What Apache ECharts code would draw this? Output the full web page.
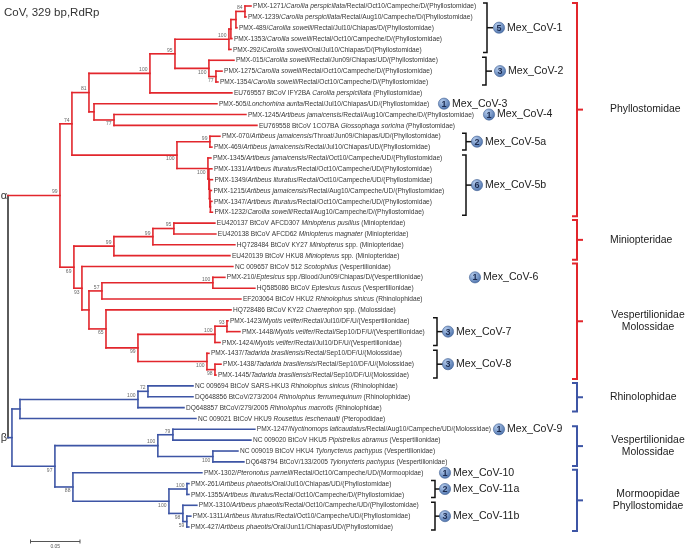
<!DOCTYPE html>
<html><head><meta charset="utf-8">
<script src="https://cdn.jsdelivr.net/npm/echarts@6.0.0/dist/echarts.min.js"></script>
<style>html,body{margin:0;padding:0;background:#fff}#c{width:687px;height:550px}</style>
</head><body><div id="c"></div>
<script>
// ---------------- DATA ----------------
const chartTitle = 'CoV, 329 bp,RdRp';
const rootLabels = ['α', 'β'];
const scaleBarValue = 0.05;

// leaf names, in tree order (L0..L48); *...* = italic
const leafNames = [
  'PMX-1271/*Carollia perspicillata*/Rectal/Oct10/Campeche/D/(Phyllostomidae)',
  'PMX-1239/*Carollia perspicillata*/Rectal/Aug10/Campeche/D/(Phyllostomidae)',
  'PMX-489/*Carollia sowelli*/Rectal/Jul10/Chiapas/D/(Phyllostomidae)',
  'PMX-1353/*Carollia sowelli*/Rectal/Oct10/Campeche/D/(Phyllostomidae)',
  'PMX-292/*Carollia sowelli*/Oral/Jul10/Chiapas/D/(Phyllostomidae)',
  'PMX-015/*Carollia sowelli*/Rectal/Jun09/Chiapas/UD/(Phyllostomidae)',
  'PMX-1275/*Carollia sowelli*/Rectal/Oct10/Campeche/D/(Phyllostomidae)',
  'PMX-1354/*Carollia sowelli*/Rectal/Oct10/Campeche/D/(Phyllostomidae)',
  'EU769557 BtCoV IFY2BA *Carollia perspicillata* (Phyllostomidae)',
  'PMX-505/*Lonchorhina aurita*/Rectal/Jul10/Chiapas/UD/(Phyllostomidae)',
  'PMX-1245/*Artibeus jamaicensis*/Rectal/Aug10/Campeche/D/(Phyllostomidae)',
  'EU769558 BtCoV 1CO7BA *Glossophaga soricina* (Phyllostomidae)',
  'PMX-070/*Artibeus jamaicensis*/Throat/Jun09/Chiapas/UD/(Phyllostomidae)',
  'PMX-469/*Artibeus jamaicensis*/Rectal/Jul10/Chiapas/UD/(Phyllostomidae)',
  'PMX-1345/*Artibeus jamaicensis*/Rectal/Oct10/Campeche/UD/(Phyllostomidae)',
  'PMX-1331/*Artibeus lituratus*/Rectal/Oct10/Campeche/UD/(Phyllostomidae)',
  'PMX-1349/*Artibeus lituratus*/Rectal/Oct10/Campeche/UD/(Phyllostomidae)',
  'PMX-1215/*Artibeus jamaicensis*/Rectal/Aug10/Campeche/UD/(Phyllostomidae)',
  'PMX-1347/*Artibeus lituratus*/Rectal/Oct10/Campeche/UD/(Phyllostomidae)',
  'PMX-1232/*Carollia sowelli*/Rectal/Aug10/Campeche/D/(Phyllostomidae)',
  'EU420137 BtCoV AFCD307 *Miniopterus pusillus* (Miniopteridae)',
  'EU420138 BtCoV AFCD62 *Miniopterus magnater* (Miniopteridae)',
  'HQ728484 BtCoV KY27 *Miniopterus* spp. (Miniopteridae)',
  'EU420139 BtCoV HKU8 *Miniopterus* spp. (Miniopteridae)',
  'NC 009657 BtCoV 512 *Scotophilus* (Vespertilionidae)',
  'PMX-210/*Eptesicus* spp./Blood/Jun09/Chiapas/D/(Vespertilionidae)',
  'HQ585086 BtCoV *Eptesicus fuscus* (Vespertilionidae)',
  'EF203064 BtCoV HKU2 *Rhinolophus sinicus* (Rhinolophidae)',
  'HQ728486 BtCoV KY22 *Chaerephon* spp. (Molossidae)',
  'PMX-1423/*Myotis velifer*/Rectal/Jul10/DF/U/(Vespertilionidae)',
  'PMX-1448/*Myotis velifer*/Rectal/Sep10/DF/U/(Vespertilionidae)',
  'PMX-1424/*Myotis velifer*/Rectal/Jul10/DF/U/(Vespertilionidae)',
  'PMX-1437/*Tadarida brasiliensis*/Rectal/Sep10/DF/U/(Molossidae)',
  'PMX-1438/*Tadarida brasiliensis*/Rectal/Sep10/DF/U/(Molossidae)',
  'PMX-1445/*Tadarida brasiliensis*/Rectal/Sep10/DF/U/(Molossidae)',
  'NC 009694 BtCoV SARS-HKU3 *Rhinolophus sinicus* (Rhinolophidae)',
  'DQ648856 BtCoV/273/2004 *Rhinolophus ferrumequinum* (Rhinolophidae)',
  'DQ648857 BtCoV/279/2005 *Rhinolophus macrotis* (Rhinolophidae)',
  'NC 009021 BtCoV HKU9 *Rousettus leschenaulti* (Pteropodidae)',
  'PMX-1247/*Nyctinomops laticaudatus*/Rectal/Aug10/Campeche/UD/(Molossidae)',
  'NC 009020 BtCoV HKU5 *Pipistrellus abramus* (Vespertilionidae)',
  'NC 009019 BtCoV HKU4 *Tylonycterus pachypus* (Vespertilionidae)',
  'DQ648794 BtCoV/133/2005 *Tylonycteris pachypus* (Vespertilionidae)',
  'PMX-1302/*Pteronotus parnelli*/Rectal/Oct10/Campeche/UD/(Mormoopidae)',
  'PMX-261/*Artibeus phaeotis*/Oral/Jul10/Chiapas/UD/(Phyllostomidae)',
  'PMX-1355/*Artibeus lituratus*/Rectal/Oct10/Campeche/D/(Phyllostomidae)',
  'PMX-1310/*Artibeus phaeotis*/Rectal/Oct10/Campeche/UD/(Phyllostomidae)',
  'PMX-1311/*Artibeus lituratus*/Rectal/Oct10/Campeche/UD/(Phyllostomidae)',
  'PMX-427/*Artibeus phaeotis*/Oral/Jun11/Chiapas/UD/(Phyllostomidae)'
];

// tree topology with branch lengths (substitutions/site) and bootstrap values
const treeNewick =
  '(' +
   '(' +
    '(' +
     '(' +
      '(' +
       '(' +
        '((((L0:0.0061,L1:0.0010)84:0.0091,L2:0.0010):0.0051,L3:0.0010):0.0020,L4:0.0020)100:0.0545,' +
        '(L5:0.0253,(L6:0.0061,L7:0.0020)77:0.0071)100:0.0343' +
       ')95:0.0253,L8:0.0828' +
      ')100:0.0616,' +
      '(L9:0.1242,(L10:0.1333,L11:0.1444)77:0.0202):0.0051' +
     ')81:0.0172,' +
     '((L12:0.0101,L13:0.0020)99:0.0333,(L14:0.0030,(L15:0.0030,(L16:0.0030,(L17:0.0015,(L18:0.0015,L19:0.0020):0.0005):0.0005):0.0005):0.0010)100:0.0313)100:0.1061' +
    ')74:0.0121,' +
    '(' +
     '(((L20:0.0414,L21:0.0424)95:0.0212,L22:0.0828)99:0.0394,L23:0.1172)99:0.0404,' +
     '(L24:0.1525,(((L25:0.0121,L26:0.0424)100:0.1121,L27:0.1404)57:0.0131,(L28:0.1263,(((L29:0.0010,L30:0.0131)93:0.0121,L31:0.0051)100:0.0778,(L32:0.0020,(L33:0.0061,L34:0.0010)98:0.0081)100:0.0697)99:0.0323)65:0.0172):0.0071)93:0.0081' +
    ')69:0.0141' +
   ')99:0.0525,' +
   '(' +
    '(((L35:0.0455,L36:0.0455)72:0.0101,L37:0.0465)100:0.1192,L38:0.1778):0.0081,' +
    '(((L39:0.0828,L40:0.0788)79:0.0152,(L41:0.0253,L42:0.0313)100:0.0556)100:0.1040,(L43:0.1303,((L44:0.0020,L45:0.0020)100:0.0182,(L46:0.0141,(L47:0.0040,L48:0.0020)59:0.0040)98:0.0141)100:0.0970)88:0.0182)97:0.0434' +
   '):0.0040' +
  ');';

// Mex_CoV groups
const mexNames = ['Mex_CoV-1','Mex_CoV-2','Mex_CoV-3','Mex_CoV-4','Mex_CoV-5a','Mex_CoV-5b','Mex_CoV-6','Mex_CoV-7','Mex_CoV-8','Mex_CoV-9','Mex_CoV-10','Mex_CoV-11a','Mex_CoV-11b'];
const mexCounts = [5, 3, 1, 1, 2, 6, 1, 3, 3, 1, 1, 2, 3];
const mexFirstLeaf = [0, 5, 9, 10, 12, 14, 25, 29, 32, 39, 43, 44, 46];
const mexLastLeaf  = [4, 7, 9, 10, 13, 19, 25, 31, 34, 39, 43, 45, 48];

// host family groups
const familyNames = ['Phyllostomidae', 'Miniopteridae', 'Vespertilionidae\nMolossidae', 'Rhinolophidae', 'Vespertilionidae\nMolossidae', 'Mormoopidae\nPhyllostomidae'];
const familyFirstLeaf = [0, 20, 24, 35, 39, 43];
const familyLastLeaf  = [19, 23, 34, 37, 42, 48];
const familyClade = [0, 0, 0, 1, 1, 1];

// ---------------- STYLE / LAYOUT ----------------
const FONT = '"Liberation Sans", Arial, Helvetica, sans-serif';
const CLADE_COLORS = ['#e2262c', '#3d55a5', '#333333'];
const mexLayout = {
  bracketX: [487, 486, null, null, 466, 466, null, 437, 437, null, null, 435, 435],
  circleX:  [499, 500, 444, 489, 477, 477, 475, 448, 448, 499, 445, 445, 445]
};
const famLayout = { bracketX: 577, labelLeft: 610, labelCenter: 648 };

// ---------------- TREE LAYOUT ----------------
function parseNewick(s) {
  let i = 0;
  function node() {
    const n = { children: [] };
    if (s[i] === '(') {
      i++;
      n.children.push(node());
      while (s[i] === ',') { i++; n.children.push(node()); }
      i++;
    }
    let name = '';
    while (i < s.length && !',():;'.includes(s[i])) name += s[i++];
    n.name = name;
    n.len = 0;
    if (s[i] === ':') {
      i++;
      let num = '';
      while (i < s.length && !',();'.includes(s[i])) num += s[i++];
      n.len = parseFloat(num);
    }
    return n;
  }
  return node();
}
function layoutTree(n, parentDepth, clade) {
  n.depth = parentDepth + n.len;
  n.clade = clade;
  if (!n.children.length) { n.leaf = parseInt(n.name.slice(1), 10); n.y = n.leaf; }
  else {
    n.children.forEach((c, k) => layoutTree(c, n.depth, clade === null ? k : clade));
    n.y = (n.children[0].y + n.children[n.children.length - 1].y) / 2;
  }
}
const root = parseNewick(treeNewick);
layoutTree(root, 0, null);

const segData = [], leafData = [], supportData = [];
(function walk(n, parent) {
  if (parent) segData.push([parent.depth, n.y, n.depth, n.y, n.clade]);
  if (n.children.length) {
    const f = n.children[0], l = n.children[n.children.length - 1];
    segData.push([n.depth, f.y, n.depth, l.y, n.clade === null ? 2 : n.clade]);
    if (n.name && parent) supportData.push([n.depth, n.y, Number(n.name), n.y > parent.y ? 1 : 0]);
    n.children.forEach(c => walk(c, n));
  } else {
    leafData.push([n.depth, n.y, n.leaf]);
  }
})(root, null);
const rootLabelData = root.children.map((c, k) => [root.depth, c.y, k]);

const richNames = leafNames.map(s => s.replace(/\*([^*]+)\*/g, '{i|$1}'));

// ---------------- CHART ----------------
const chart = echarts.init(document.getElementById('c'), null, { renderer: 'canvas' });

function txt(x, y, text, o) {
  return Object.assign({ type: 'text', x: x, y: y, style: Object.assign({
    text: text, fontFamily: FONT, fill: '#333',
    align: 'left', textAlign: 'left', verticalAlign: 'middle', textVerticalAlign: 'middle'
  }, o || {}) });
}

const LEAF_FS = 6.6;
const option = {
  animation: false,
  title: { text: chartTitle, left: 4, top: 7, padding: 0,
    textStyle: { fontSize: 11.5, fontWeight: 'normal', color: '#333', fontFamily: FONT } },
  grid: { left: 8, right: 0, top: 6, bottom: 23 },
  xAxis: { type: 'value', min: 0, max: 0.686, show: false },
  yAxis: { type: 'value', min: 0, max: leafNames.length - 1, inverse: true, show: false },
  series: [
    { // branches
      type: 'custom', silent: true, clip: false, data: segData,
      encode: { x: [0, 2], y: [1, 3] },
      renderItem: function (p, api) {
        const a = api.coord([api.value(0), api.value(1)]);
        const b = api.coord([api.value(2), api.value(3)]);
        return { type: 'line', shape: { x1: a[0], y1: a[1], x2: b[0], y2: b[1] },
          style: { stroke: CLADE_COLORS[api.value(4)], lineWidth: 1.6, lineCap: 'square' } };
      }
    },
    { // leaf labels
      type: 'custom', silent: true, clip: false, data: leafData,
      encode: { x: 0, y: 1 },
      renderItem: function (p, api) {
        const c = api.coord([api.value(0), api.value(1)]);
        return txt(c[0] + 2, c[1] + 0.3, richNames[api.value(2)], {
          fontSize: LEAF_FS, fill: '#383838',
          rich: { i: { fontStyle: 'italic', fontSize: LEAF_FS, fontFamily: FONT, fill: '#383838' } }
        });
      }
    },
    { // bootstrap values
      type: 'custom', silent: true, clip: false, data: supportData,
      encode: { x: 0, y: 1 },
      renderItem: function (p, api) {
        const c = api.coord([api.value(0), api.value(1)]);
        const below = api.value(3) === 1;
        return txt(c[0] - 2.5, below ? c[1] + 1.5 : c[1] - 1, String(api.value(2)), {
          fontSize: 5, fill: '#666', align: 'right', textAlign: 'right',
          verticalAlign: below ? 'top' : 'bottom', textVerticalAlign: below ? 'top' : 'bottom'
        });
      }
    },
    { // alpha / beta
      type: 'custom', silent: true, clip: false, data: rootLabelData,
      encode: { x: 0, y: 1 },
      renderItem: function (p, api) {
        const c = api.coord([api.value(0), api.value(1)]);
        return txt(c[0] - 1, c[1], rootLabels[api.value(2)], {
          fontSize: 11, fill: '#333', align: 'right', textAlign: 'right' });
      }
    },
    { // Mex_CoV groups
      type: 'custom', silent: true, clip: false,
      data: mexNames.map((n, i) => [0, mexFirstLeaf[i], mexLastLeaf[i], i]),
      encode: { x: 0, y: [1, 2] },
      renderItem: function (p, api) {
        const i = api.value(3);
        const yT = api.coord([0, api.value(1)])[1];
        const yB = api.coord([0, api.value(2)])[1];
        const mid = (yT + yB) / 2;
        const ch = [];
        const bx = mexLayout.bracketX[i];
        if (bx != null) {
          ch.push({ type: 'polyline', shape: { points: [[bx - 4, yT - 3], [bx, yT - 3], [bx, yB + 3], [bx - 4, yB + 3]] },
            style: { stroke: '#111', lineWidth: 1.5, fill: 'none' } });
          ch.push({ type: 'line', shape: { x1: bx, y1: mid, x2: bx + 6, y2: mid },
            style: { stroke: '#111', lineWidth: 1.5 } });
        }
        const cx = mexLayout.circleX[i];
        ch.push({ type: 'circle', shape: { cx: cx, cy: mid, r: 5.6 },
          style: { fill: new echarts.graphic.RadialGradient(0.35, 0.3, 0.75, [
            { offset: 0, color: '#b4cbec' }, { offset: 1, color: '#4a70aa' }]),
            stroke: '#3e5e92', lineWidth: 0.6 } });
        ch.push(txt(cx, mid + 0.5, String(mexCounts[i]), { fontSize: 9, fontWeight: 'bold',
          fill: '#1b2b50', align: 'center', textAlign: 'center' }));
        ch.push(txt(cx + 8, mid, mexNames[i], { fontSize: 10.6, fill: '#222' }));
        return { type: 'group', children: ch };
      }
    },
    { // family groups
      type: 'custom', silent: true, clip: false,
      data: familyNames.map((n, i) => [0, familyFirstLeaf[i], familyLastLeaf[i], i]),
      encode: { x: 0, y: [1, 2] },
      renderItem: function (p, api) {
        const i = api.value(3);
        const yT = api.coord([0, api.value(1)])[1] - 3;
        const yB = api.coord([0, api.value(2)])[1] + 4;
        const mid = (yT + yB) / 2;
        const bx = famLayout.bracketX;
        const col = CLADE_COLORS[familyClade[i]];
        const multi = familyNames[i].indexOf('\n') >= 0;
        return { type: 'group', children: [
          { type: 'polyline', shape: { points: [[bx - 5, yT], [bx, yT], [bx, yB], [bx - 5, yB]] },
            style: { stroke: col, lineWidth: 2, fill: 'none' } },
          { type: 'line', shape: { x1: bx, y1: mid, x2: bx + 6, y2: mid }, style: { stroke: col, lineWidth: 2 } },
          txt(multi ? famLayout.labelCenter : famLayout.labelLeft, mid, familyNames[i], {
            fontSize: 10.4, fill: '#222', lineHeight: 12.5,
            align: multi ? 'center' : 'left', textAlign: multi ? 'center' : 'left' })
        ] };
      }
    },
    { // scale bar
      type: 'custom', silent: true, clip: false, data: [[0, 0]],
      renderItem: function (p, api) {
        const len = api.size([scaleBarValue, 0])[0];
        const x0 = 30.5, y0 = 541.5;
        const st = { stroke: '#555', lineWidth: 1 };
        return { type: 'group', children: [
          { type: 'line', shape: { x1: x0, y1: y0, x2: x0 + len, y2: y0 }, style: st },
          { type: 'line', shape: { x1: x0, y1: y0 - 2, x2: x0, y2: y0 + 2 }, style: st },
          { type: 'line', shape: { x1: x0 + len, y1: y0 - 2, x2: x0 + len, y2: y0 + 2 }, style: st },
          txt(x0 + len / 2, y0 + 5.5, scaleBarValue.toFixed(2), { fontSize: 5, fill: '#555', align: 'center', textAlign: 'center' })
        ] };
      }
    }
  ]
};
chart.setOption(option);
</script>
</body></html>
